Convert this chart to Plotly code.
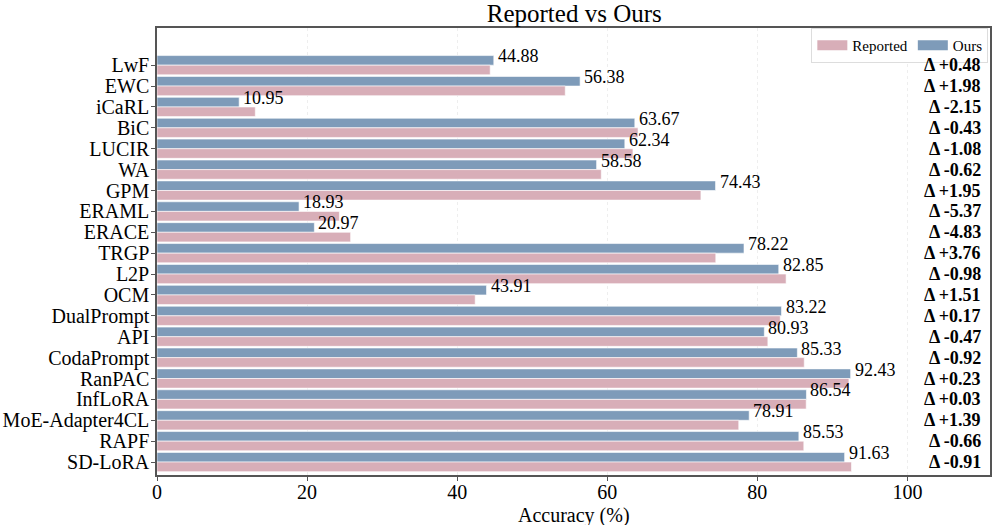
import plotly.graph_objects as go

methods = ["LwF", "EWC", "iCaRL", "BiC", "LUCIR", "WA", "GPM", "ERAML", "ERACE", "TRGP",
           "L2P", "OCM", "DualPrompt", "API", "CodaPrompt", "RanPAC", "InfLoRA",
           "MoE-Adapter4CL", "RAPF", "SD-LoRA"]
ours = [44.88, 56.38, 10.95, 63.67, 62.34, 58.58, 74.43, 18.93, 20.97, 78.22,
        82.85, 43.91, 83.22, 80.93, 85.33, 92.43, 86.54, 78.91, 85.53, 91.63]
reported = [44.40, 54.40, 13.10, 64.10, 63.42, 59.20, 72.48, 24.30, 25.80, 74.46,
            83.83, 42.40, 83.05, 81.40, 86.25, 92.20, 86.51, 77.52, 86.19, 92.54]
deltas = [0.48, 1.98, -2.15, -0.43, -1.08, -0.62, 1.95, -5.37, -4.83, 3.76,
          -0.98, 1.51, 0.17, -0.47, -0.92, 0.23, 0.03, 1.39, -0.66, -0.91]
x_ticks = [0, 20, 40, 60, 80, 100]

FONT = "Liberation Serif"
BLUE = "#7e9bb9"
PINK = "#d8aeb8"

fig = go.Figure()
fig.add_trace(go.Bar(
    y=methods, x=ours, orientation="h", name="Ours", showlegend=False,
    marker=dict(color=BLUE, line=dict(color="white", width=0.6)),
))
fig.add_trace(go.Bar(
    y=methods, x=reported, orientation="h", name="Reported", showlegend=False,
    marker=dict(color=PINK, line=dict(color="white", width=0.6)),
))
# legend entries drawn as wide patches
fig.add_trace(go.Scatter(x=[None], y=[None], mode="lines", name="Reported",
                         line=dict(color=PINK, width=10), hoverinfo="skip"))
fig.add_trace(go.Scatter(x=[None], y=[None], mode="lines", name="Ours",
                         line=dict(color=BLUE, width=10), hoverinfo="skip"))

for m, v in zip(methods, ours):
    fig.add_annotation(x=v, y=m, xref="x", yref="y", text=f"{v:.2f}",
                       showarrow=False, xanchor="left", yanchor="middle",
                       xshift=2, yshift=9,
                       font=dict(family=FONT, size=18, color="black"))

for m, d in zip(methods, deltas):
    fig.add_annotation(x=110, y=m, xref="x", yref="y", text=f"<b>Δ {d:+.2f}</b>",
                       showarrow=False, xanchor="right", yanchor="middle",
                       font=dict(family=FONT, size=18, color="black"))

fig.add_annotation(x=0.5, y=0, xref="paper", yref="paper", yshift=-40,
                   text="Accuracy (%)", showarrow=False, xanchor="center", yanchor="middle",
                   font=dict(family=FONT, size=20, color="black"))

fig.update_layout(
    width=997, height=525,
    margin=dict(l=157, r=7, t=28, b=50),
    paper_bgcolor="white", plot_bgcolor="white",
    barmode="group", bargap=0.08, bargroupgap=0.0,
    title=dict(text="Reported vs Ours", x=0.576, xanchor="center", y=0.975, yanchor="middle",
               font=dict(family=FONT, size=25, color="black")),
    font=dict(family=FONT, size=18, color="black"),
    legend=dict(orientation="h", x=0.998, xanchor="right", y=1.0, yanchor="top",
                bordercolor="#dddddd", borderwidth=1, bgcolor="white",
                font=dict(family=FONT, size=15, color="black"),
                traceorder="normal"),
    xaxis=dict(range=[0, 111], tickvals=x_ticks, showgrid=True, gridcolor="#eeeeee",
               griddash="dot", zeroline=False, showline=True, linecolor="#555555",
               linewidth=1.5, mirror=True, ticks="outside", ticklen=4, tickcolor="#555555",
               ticklabelstandoff=-6,
               automargin=False, tickfont=dict(family=FONT, size=20)),
    yaxis=dict(categoryorder="array", categoryarray=methods, range=[19.62, -1.78],
               tickmode="array", tickvals=methods, ticktext=methods,
               showgrid=False, showline=True, linecolor="#555555", linewidth=1.5,
               mirror=True, ticks="outside", ticklen=4, tickcolor="#555555",
               ticklabelstandoff=-2,
               automargin=False, tickfont=dict(family=FONT, size=20)),
)

fig.write_html("out.html", post_script="document.body.style.margin='0';",
               config={"displayModeBar": False})
